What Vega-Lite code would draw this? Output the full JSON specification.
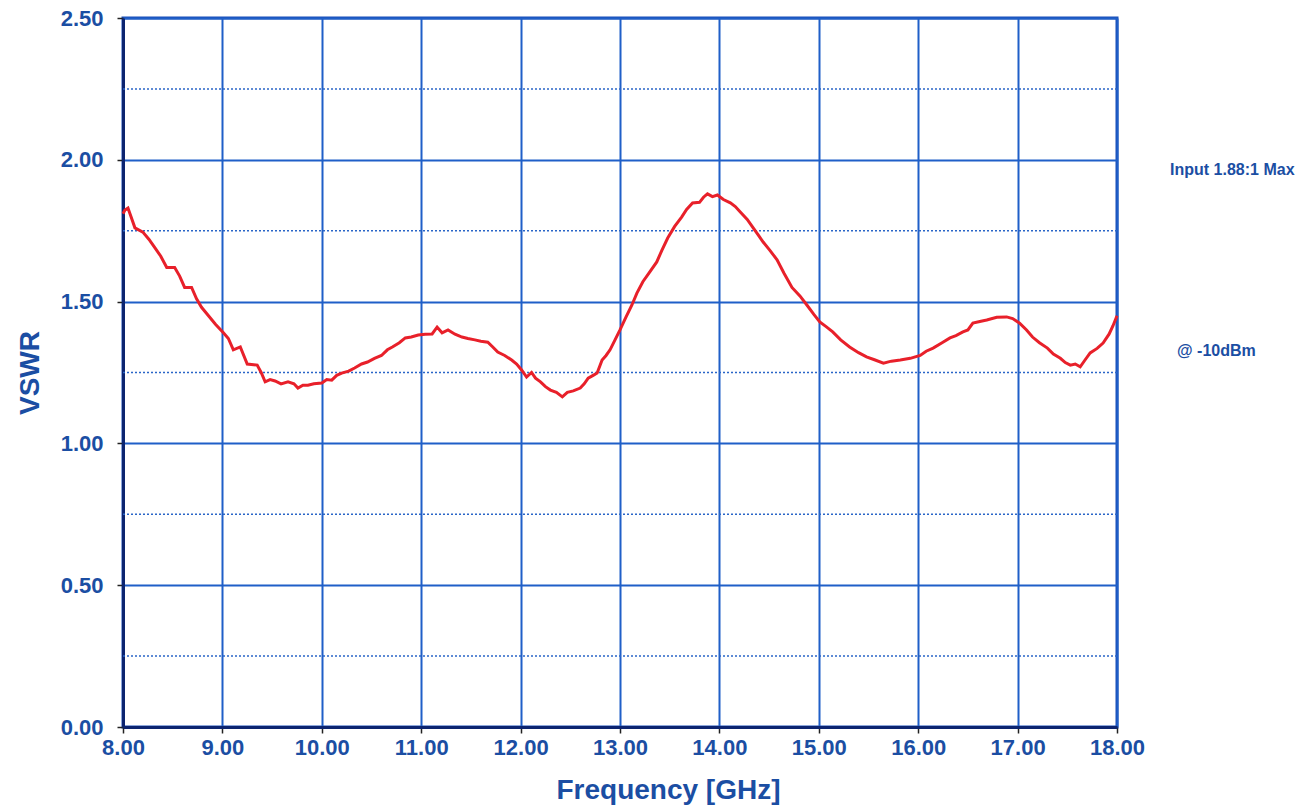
{
  "$schema": "https://vega.github.io/schema/vega-lite/v6.json",
  "autosize": "none",
  "width": 994,
  "height": 709,
  "padding": {"left": 123, "top": 18, "right": 190, "bottom": 83},
  "background": "white",
  "config": {
    "view": {"stroke": "#1a4fb8", "strokeWidth": 3},
    "font": "Liberation Sans",
    "axis": {
      "labelFont": "Liberation Sans",
      "labelFontWeight": "bold",
      "labelFontSize": 22,
      "labelColor": "#1b4ea3",
      "titleFont": "Liberation Sans",
      "titleFontWeight": "bold",
      "titleFontSize": 28,
      "titleColor": "#1b4ea3",
      "gridColor": "#1f5fc8",
      "gridWidth": 2,
      "gridOpacity": 1,
      "domainColor": "#0c2470",
      "domainWidth": 3,
      "tickColor": "#222222",
      "tickSize": 6,
      "tickWidth": 1.5
    }
  },
  "datasets": {
    "vswr": [
      {"f": 8.00, "v": 1.81}, {"f": 8.02, "v": 1.823}, {"f": 8.05, "v": 1.83}, {"f": 8.08, "v": 1.80},
      {"f": 8.12, "v": 1.76}, {"f": 8.20, "v": 1.745}, {"f": 8.26, "v": 1.72}, {"f": 8.32, "v": 1.69},
      {"f": 8.38, "v": 1.66}, {"f": 8.44, "v": 1.62}, {"f": 8.52, "v": 1.62}, {"f": 8.57, "v": 1.59},
      {"f": 8.62, "v": 1.55}, {"f": 8.69, "v": 1.55}, {"f": 8.74, "v": 1.51}, {"f": 8.79, "v": 1.48},
      {"f": 8.86, "v": 1.45}, {"f": 8.93, "v": 1.42}, {"f": 9.01, "v": 1.39}, {"f": 9.06, "v": 1.37},
      {"f": 9.11, "v": 1.33}, {"f": 9.18, "v": 1.34}, {"f": 9.25, "v": 1.28}, {"f": 9.35, "v": 1.276},
      {"f": 9.39, "v": 1.25}, {"f": 9.43, "v": 1.217}, {"f": 9.48, "v": 1.225}, {"f": 9.53, "v": 1.22},
      {"f": 9.59, "v": 1.21}, {"f": 9.66, "v": 1.217}, {"f": 9.72, "v": 1.21}, {"f": 9.76, "v": 1.195},
      {"f": 9.81, "v": 1.205}, {"f": 9.86, "v": 1.205}, {"f": 9.92, "v": 1.21}, {"f": 10.0, "v": 1.213},
      {"f": 10.05, "v": 1.225}, {"f": 10.10, "v": 1.223}, {"f": 10.15, "v": 1.24}, {"f": 10.20, "v": 1.248},
      {"f": 10.27, "v": 1.255}, {"f": 10.33, "v": 1.266}, {"f": 10.40, "v": 1.28}, {"f": 10.46, "v": 1.287},
      {"f": 10.53, "v": 1.30}, {"f": 10.60, "v": 1.31}, {"f": 10.66, "v": 1.33}, {"f": 10.71, "v": 1.34},
      {"f": 10.78, "v": 1.355}, {"f": 10.84, "v": 1.372}, {"f": 10.90, "v": 1.375}, {"f": 10.97, "v": 1.382},
      {"f": 11.04, "v": 1.385}, {"f": 11.11, "v": 1.386}, {"f": 11.16, "v": 1.41}, {"f": 11.21, "v": 1.39},
      {"f": 11.27, "v": 1.40}, {"f": 11.34, "v": 1.385}, {"f": 11.41, "v": 1.375}, {"f": 11.47, "v": 1.37},
      {"f": 11.54, "v": 1.365}, {"f": 11.60, "v": 1.36}, {"f": 11.67, "v": 1.357}, {"f": 11.72, "v": 1.34},
      {"f": 11.77, "v": 1.322}, {"f": 11.84, "v": 1.31}, {"f": 11.91, "v": 1.294}, {"f": 11.96, "v": 1.28},
      {"f": 12.01, "v": 1.259}, {"f": 12.06, "v": 1.234}, {"f": 12.11, "v": 1.25}, {"f": 12.15, "v": 1.23},
      {"f": 12.20, "v": 1.217}, {"f": 12.25, "v": 1.20}, {"f": 12.30, "v": 1.188}, {"f": 12.36, "v": 1.18},
      {"f": 12.42, "v": 1.164}, {"f": 12.47, "v": 1.18}, {"f": 12.53, "v": 1.185}, {"f": 12.60, "v": 1.195},
      {"f": 12.64, "v": 1.21}, {"f": 12.68, "v": 1.23}, {"f": 12.73, "v": 1.24}, {"f": 12.77, "v": 1.248},
      {"f": 12.82, "v": 1.294}, {"f": 12.86, "v": 1.31}, {"f": 12.90, "v": 1.33}, {"f": 12.95, "v": 1.365},
      {"f": 13.00, "v": 1.40}, {"f": 13.06, "v": 1.445}, {"f": 13.12, "v": 1.488}, {"f": 13.17, "v": 1.53},
      {"f": 13.23, "v": 1.57}, {"f": 13.30, "v": 1.605}, {"f": 13.37, "v": 1.64}, {"f": 13.42, "v": 1.68},
      {"f": 13.48, "v": 1.724}, {"f": 13.55, "v": 1.765}, {"f": 13.62, "v": 1.798}, {"f": 13.67, "v": 1.825},
      {"f": 13.73, "v": 1.848}, {"f": 13.80, "v": 1.85}, {"f": 13.84, "v": 1.868}, {"f": 13.88, "v": 1.88},
      {"f": 13.93, "v": 1.87}, {"f": 13.98, "v": 1.876}, {"f": 14.04, "v": 1.86}, {"f": 14.11, "v": 1.848},
      {"f": 14.16, "v": 1.835}, {"f": 14.21, "v": 1.816}, {"f": 14.28, "v": 1.79}, {"f": 14.34, "v": 1.76},
      {"f": 14.39, "v": 1.735}, {"f": 14.44, "v": 1.71}, {"f": 14.51, "v": 1.68}, {"f": 14.58, "v": 1.647},
      {"f": 14.65, "v": 1.60}, {"f": 14.73, "v": 1.55}, {"f": 14.81, "v": 1.52}, {"f": 14.88, "v": 1.488},
      {"f": 14.95, "v": 1.455}, {"f": 15.01, "v": 1.428}, {"f": 15.08, "v": 1.41}, {"f": 15.14, "v": 1.393},
      {"f": 15.22, "v": 1.365}, {"f": 15.31, "v": 1.34}, {"f": 15.40, "v": 1.32}, {"f": 15.48, "v": 1.305},
      {"f": 15.56, "v": 1.295}, {"f": 15.65, "v": 1.283}, {"f": 15.73, "v": 1.29}, {"f": 15.82, "v": 1.294},
      {"f": 15.92, "v": 1.30}, {"f": 16.02, "v": 1.31}, {"f": 16.08, "v": 1.325}, {"f": 16.15, "v": 1.336},
      {"f": 16.24, "v": 1.355}, {"f": 16.32, "v": 1.372}, {"f": 16.38, "v": 1.38}, {"f": 16.45, "v": 1.393},
      {"f": 16.50, "v": 1.40}, {"f": 16.55, "v": 1.424}, {"f": 16.62, "v": 1.43}, {"f": 16.69, "v": 1.435},
      {"f": 16.79, "v": 1.445}, {"f": 16.89, "v": 1.446}, {"f": 16.95, "v": 1.44}, {"f": 17.02, "v": 1.424},
      {"f": 17.09, "v": 1.40}, {"f": 17.15, "v": 1.375}, {"f": 17.22, "v": 1.355}, {"f": 17.30, "v": 1.336},
      {"f": 17.36, "v": 1.315}, {"f": 17.43, "v": 1.30}, {"f": 17.48, "v": 1.285}, {"f": 17.53, "v": 1.276},
      {"f": 17.58, "v": 1.28}, {"f": 17.63, "v": 1.27}, {"f": 17.68, "v": 1.295}, {"f": 17.73, "v": 1.319},
      {"f": 17.80, "v": 1.335}, {"f": 17.86, "v": 1.354}, {"f": 17.92, "v": 1.385}, {"f": 17.96, "v": 1.415},
      {"f": 18.00, "v": 1.45}
    ],
    "minor": [{"y": 0.25}, {"y": 0.75}, {"y": 1.25}, {"y": 1.75}, {"y": 2.25}],
    "notes": [
      {"f": 19.16, "v": 1.964, "label": "Input 1.88:1 Max"},
      {"f": 19.0, "v": 1.326, "label": "@ -10dBm"}
    ]
  },
  "layer": [
    {
      "data": {"name": "minor"},
      "mark": {"type": "rule", "color": "#2a66c8", "strokeWidth": 1.5, "strokeDash": [2, 2]},
      "encoding": {
        "y": {
          "field": "y", "type": "quantitative",
          "scale": {"domain": [0, 2.5], "nice": false},
          "axis": {
            "title": "VSWR",
            "values": [0, 0.5, 1, 1.5, 2, 2.5],
            "format": ".2f",
            "labelPadding": 14,
            "titlePadding": 16,
            "labelFlush": false
          }
        }
      }
    },
    {
      "data": {"name": "vswr"},
      "mark": {"type": "line", "color": "#e8202a", "strokeWidth": 3, "interpolate": "linear"},
      "encoding": {
        "x": {
          "field": "f", "type": "quantitative",
          "scale": {"domain": [8, 18], "nice": false, "zero": false},
          "axis": {
            "title": "Frequency [GHz]",
            "values": [8, 9, 10, 11, 12, 13, 14, 15, 16, 17, 18],
            "format": ".2f",
            "labelPadding": 4,
            "titlePadding": 18,
            "titleX": 545,
            "labelFlush": false
          }
        },
        "y": {
          "field": "v", "type": "quantitative",
          "scale": {"domain": [0, 2.5], "nice": false},
          "axis": {
            "title": "VSWR",
            "values": [0, 0.5, 1, 1.5, 2, 2.5],
            "format": ".2f",
            "labelPadding": 14,
            "titlePadding": 16,
            "labelFlush": false
          }
        }
      }
    },
    {
      "data": {"name": "notes"},
      "mark": {"type": "text", "fontWeight": "bold", "fontSize": 16, "color": "#1b4ea3", "font": "Liberation Sans", "align": "center", "baseline": "middle"},
      "encoding": {
        "x": {"field": "f", "type": "quantitative", "title": "Frequency [GHz]"},
        "y": {"field": "v", "type": "quantitative", "title": "VSWR"},
        "text": {"field": "label"}
      }
    }
  ]
}
